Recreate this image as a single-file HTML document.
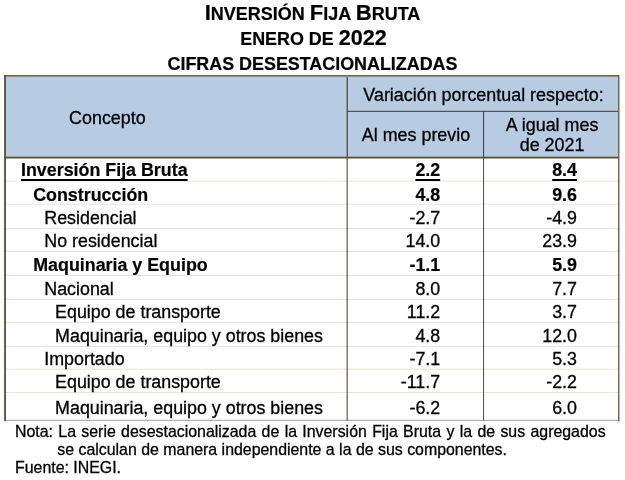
<!DOCTYPE html>
<html><head><meta charset="utf-8"><title>Inversión Fija Bruta</title>
<style>
html,body{margin:0;padding:0;background:#fff;}
body{width:625px;height:480px;position:relative;overflow:hidden;font-family:"Liberation Sans",sans-serif;color:#000;}
#w{position:absolute;left:0;top:0;width:625px;height:480px;will-change:transform;}
.t{position:absolute;white-space:nowrap;line-height:24px;font-size:17.85px;-webkit-text-stroke:0.3px #000;}
.b{font-weight:bold;-webkit-text-stroke:0.2px #000;}
.u{text-decoration:underline;text-decoration-thickness:1.7px;text-underline-offset:3px;text-decoration-skip-ink:none;}
.c{text-align:center;}
.r{text-align:right;}
svg{position:absolute;left:0;top:0;}
</style></head><body><div id="w">

<svg width="625" height="480" viewBox="0 0 625 480">
<rect x="5" y="76" width="613.3" height="81.5" fill="#b7cbe3"/>
<rect x="6" y="180.70" width="612" height="1" fill="#e8e4d5"/>
<rect x="6" y="203.70" width="612" height="1" fill="#e8e4d5"/>
<rect x="6" y="228.00" width="612" height="1" fill="#e8e4d5"/>
<rect x="6" y="251.00" width="612" height="1" fill="#e8e4d5"/>
<rect x="6" y="274.90" width="612" height="1" fill="#e8e4d5"/>
<rect x="6" y="298.90" width="612" height="1" fill="#e8e4d5"/>
<rect x="6" y="321.90" width="612" height="1" fill="#e8e4d5"/>
<rect x="6" y="345.90" width="612" height="1" fill="#e8e4d5"/>
<rect x="6" y="368.70" width="612" height="1" fill="#e8e4d5"/>
<rect x="6" y="392.00" width="612" height="1" fill="#e8e4d5"/>
<rect x="5" y="419.8" width="613.5" height="1.1" fill="#aea998"/>
<rect x="346.6" y="76" width="1.25" height="81" fill="#514726"/>
<rect x="346.6" y="157" width="1.15" height="263.5" fill="#5b5238"/>
<rect x="483" y="111" width="1.1" height="46" fill="#514726"/>
<rect x="483" y="157" width="1.05" height="263.5" fill="#5b5238"/>
<rect x="347" y="110.8" width="271" height="1.1" fill="#514726"/>
<rect x="6" y="76.1" width="612" height="1" fill="#aeaa9b"/>
<rect x="4" y="75.1" width="615" height="1.2" fill="#5c553c"/>
<rect x="4" y="156.7" width="615" height="1.8" fill="#55503a"/>
<rect x="4.1" y="75.1" width="1.9" height="346" fill="#5e573e"/>
<rect x="618.1" y="75.1" width="1.3" height="346.3" fill="#5e573f"/>
</svg>
<div class="t b c" style="left:0;width:625px;top:0.5px;font-size:18px;"><span style="font-size:22.1px">I</span>NVERSIÓN <span style="font-size:22.1px">F</span>IJA <span style="font-size:22.1px">B</span>RUTA</div>
<div class="t b c" style="left:1px;width:625px;top:25.5px;font-size:17.9px;">ENERO DE <span style="font-size:21.6px">2022</span></div>
<div class="t b c" style="left:0;width:625px;top:51.5px;font-size:17.9px;">CIFRAS DESESTACIONALIZADAS</div>
<div class="t c" style="left:57.4px;width:100px;top:106px;font-size:17.9px;">Concepto</div>
<div class="t c" style="left:348px;width:271px;top:83px;font-size:17.9px;">Variación porcentual respecto:</div>
<div class="t c" style="left:348px;width:136px;top:123px;font-size:17.9px;">Al mes previo</div>
<div class="t c" style="left:485.1px;width:134px;top:114.5px;line-height:20.5px;font-size:17.9px;">A igual mes<br>de 2021</div>
<div class="t b" style="left:21.0px;top:158.00px;"><span class="u">Inversión Fija Bruta</span></div>
<div class="t b r" style="left:340px;width:100.2px;top:158.00px;"><span class="u">2.2</span></div>
<div class="t b r" style="left:478px;width:99px;top:158.00px;"><span class="u">8.4</span></div>
<div class="t b" style="left:33.2px;top:183.00px;">Construcción</div>
<div class="t b r" style="left:340px;width:100.2px;top:183.00px;">4.8</div>
<div class="t b r" style="left:478px;width:99px;top:183.00px;">9.6</div>
<div class="t" style="left:44.3px;top:206.00px;">Residencial</div>
<div class="t r" style="left:340px;width:100.2px;top:206.00px;">-2.7</div>
<div class="t r" style="left:478px;width:99px;top:206.00px;">-4.9</div>
<div class="t" style="left:44.3px;top:229.00px;">No residencial</div>
<div class="t r" style="left:340px;width:100.2px;top:229.00px;">14.0</div>
<div class="t r" style="left:478px;width:99px;top:229.00px;">23.9</div>
<div class="t b" style="left:33.2px;top:253.00px;">Maquinaria y Equipo</div>
<div class="t b r" style="left:340px;width:100.2px;top:253.00px;">-1.1</div>
<div class="t b r" style="left:478px;width:99px;top:253.00px;">5.9</div>
<div class="t" style="left:44.3px;top:277.00px;">Nacional</div>
<div class="t r" style="left:340px;width:100.2px;top:277.00px;">8.0</div>
<div class="t r" style="left:478px;width:99px;top:277.00px;">7.7</div>
<div class="t" style="left:55.1px;top:300.00px;">Equipo de transporte</div>
<div class="t r" style="left:340px;width:100.2px;top:300.00px;">11.2</div>
<div class="t r" style="left:478px;width:99px;top:300.00px;">3.7</div>
<div class="t" style="left:55.1px;top:324.00px;">Maquinaria, equipo y otros bienes</div>
<div class="t r" style="left:340px;width:100.2px;top:324.00px;">4.8</div>
<div class="t r" style="left:478px;width:99px;top:324.00px;">12.0</div>
<div class="t" style="left:44.3px;top:347.00px;">Importado</div>
<div class="t r" style="left:340px;width:100.2px;top:347.00px;">-7.1</div>
<div class="t r" style="left:478px;width:99px;top:347.00px;">5.3</div>
<div class="t" style="left:55.1px;top:370.00px;">Equipo de transporte</div>
<div class="t r" style="left:340px;width:100.2px;top:370.00px;">-11.7</div>
<div class="t r" style="left:478px;width:99px;top:370.00px;">-2.2</div>
<div class="t" style="left:55.1px;top:396.00px;">Maquinaria, equipo y otros bienes</div>
<div class="t r" style="left:340px;width:100.2px;top:396.00px;">-6.2</div>
<div class="t r" style="left:478px;width:99px;top:396.00px;">6.0</div>
<div class="t" style="left:15px;top:422.00px;font-size:15.9px;line-height:19px;width:590.6px;white-space:normal;text-align:justify;text-align-last:justify;">Nota: La serie desestacionalizada de la Inversión Fija Bruta y la de sus agregados</div>
<div class="t" style="left:57.3px;top:440.00px;font-size:15.9px;line-height:19px;">se calculan de manera independiente a la de sus componentes.</div>
<div class="t" style="left:15px;top:458.00px;font-size:15.9px;line-height:19px;">Fuente: INEGI.</div>
</div></body></html>
